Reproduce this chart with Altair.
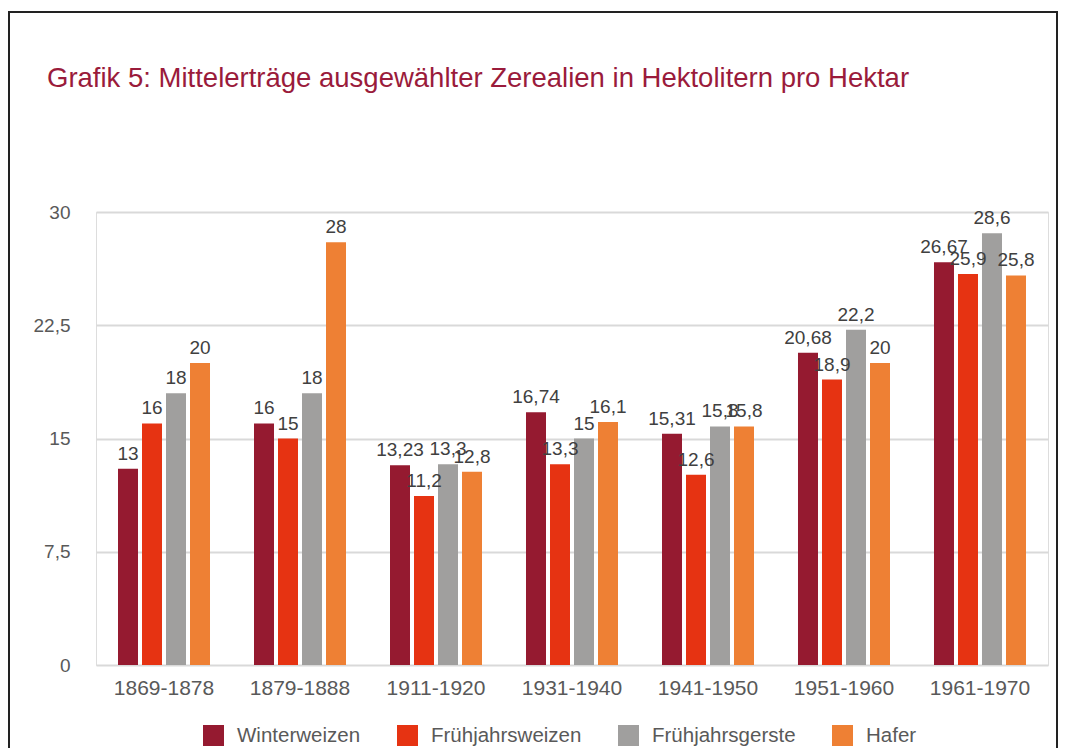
import altair as alt
import pandas as pd

periods = ["1869-1878", "1879-1888", "1911-1920", "1931-1940", "1941-1950", "1951-1960", "1961-1970"]
series = ["Winterweizen", "Frühjahrsweizen", "Frühjahrsgerste", "Hafer"]
winterweizen = [13, 16, 13.23, 16.74, 15.31, 20.68, 26.67]
fruehjahrsweizen = [16, 15, 11.2, 13.3, 12.6, 18.9, 25.9]
fruehjahrsgerste = [18, 18, 13.3, 15, 15.8, 22.2, 28.6]
hafer = [20, 28, 12.8, 16.1, 15.8, 20, 25.8]
colors = ["#951A30", "#E63312", "#A09F9E", "#EE8034"]
y_ticks = [0, 7.5, 15, 22.5, 30]

rows = []
for name, vals in zip(series, [winterweizen, fruehjahrsweizen, fruehjahrsgerste, hafer]):
    for p, v in zip(periods, vals):
        rows.append({"Zeitraum": p, "Getreide": name, "Wert": v})
df = pd.DataFrame(rows)

FONT = "Liberation Sans"

x_enc = alt.X("Zeitraum:N", sort=periods, title=None,
              scale=alt.Scale(paddingInner=0.3235, paddingOuter=0.1618),
              axis=alt.Axis(labelAngle=0, labelFontSize=21, labelColor="#595959", labelFont=FONT,
                            labelPadding=12, domain=False, ticks=False, grid=False))
xoff_enc = alt.XOffset("Getreide:N", sort=series, scale=alt.Scale(paddingInner=0.1667, paddingOuter=0))
y_enc = alt.Y("Wert:Q", title=None,
              scale=alt.Scale(domain=[0, 30], nice=False),
              axis=alt.Axis(values=y_ticks, labelExpr="replace('' + datum.value, '.', ',')",
                            labelFontSize=19, labelColor="#595959", labelFont=FONT, labelPadding=26,
                            domain=False, ticks=False, grid=True, gridColor="#D9D9D9", gridWidth=2))

base = alt.Chart(df)

bars = base.mark_bar().encode(
    x=x_enc,
    xOffset=xoff_enc,
    y=y_enc,
    color=alt.Color("Getreide:N", sort=series, title=None,
                    scale=alt.Scale(domain=series, range=colors),
                    legend=alt.Legend(orient="none", legendX=107, legendY=513, direction="horizontal",
                                      symbolType="square", symbolSize=441, symbolStrokeWidth=0,
                                      labelFontSize=20.5, labelColor="#595959", labelFont=FONT,
                                      labelOffset=13, columnPadding=36)),
)

labels = base.transform_calculate(
    lbl="replace('' + datum.Wert, '.', ',')"
).mark_text(baseline="bottom", dy=-5, fontSize=19, color="#404040", font=FONT).encode(
    x=alt.X("Zeitraum:N", sort=periods),
    xOffset=alt.XOffset("Getreide:N", sort=series),
    y=alt.Y("Wert:Q"),
    text="lbl:N",
)

frame = alt.Chart(pd.DataFrame({"k": [0]})).mark_rect(
    fill=None, stroke="#222222", strokeWidth=2, clip=False
).encode(
    x=alt.value(-87), x2=alt.value(961), y=alt.value(-200), y2=alt.value(560)
)

chart = alt.layer(frame, bars, labels).properties(
    width=952,
    height=453,
    autosize=alt.AutoSizeParams(type="none"),
    padding={"left": 88, "top": 204, "right": 11, "bottom": 83},
    title=alt.TitleParams(
        "Grafik 5: Mittelerträge ausgewählter Zerealien in Hektolitern pro Hektar",
        anchor="start", frame="group", dx=-49, offset=-103, baseline="alphabetic",
        fontSize=27.5, font=FONT, fontWeight="normal", color="#9A1B3B",
    ),
).configure_view(stroke="transparent", strokeWidth=0).configure(background="white")

chart.save("out.html", embed_options={"renderer": "svg", "actions": False})
